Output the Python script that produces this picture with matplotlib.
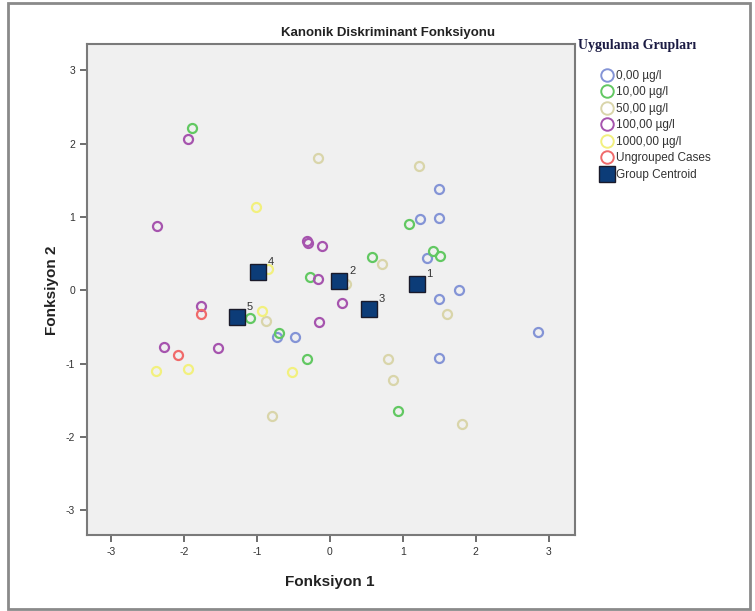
import matplotlib
matplotlib.use("Agg")
import matplotlib.pyplot as plt
from matplotlib.lines import Line2D
from matplotlib.patches import Rectangle

plt.rcParams['font.family'] = ['Liberation Sans', 'DejaVu Sans']
plt.rcParams['axes.unicode_minus'] = False

# discriminant scores per group (function 1, function 2)
g0_x = [1.23, 1.49, 1.49, 1.33, 1.77, 1.49, 2.85, 1.49, -0.73, -0.48]
g0_y = [0.97, 1.38, 0.98, 0.44, 0.00, -0.12, -0.57, -0.93, -0.64, -0.64]

g10_x = [1.09, 1.42, 1.51, 0.58, -0.27, -1.89, -1.10, -0.70, -0.32, 0.94]
g10_y = [0.90, 0.53, 0.47, 0.45, 0.18, 2.22, -0.38, -0.59, -0.94, -1.65]

g50_x = [-0.16, 1.22, 0.71, 0.22, -0.87, -0.79, 1.60, 0.80, 0.87, 1.81]
g50_y = [1.81, 1.70, 0.36, 0.08, -0.42, -1.71, -0.32, -0.94, -1.23, -1.82]

g100_x = [-1.94, -2.37, -0.32, -0.30, -0.11, -0.16, 0.17, -0.15, -1.77, -2.27, -1.53]
g100_y = [2.06, 0.88, 0.67, 0.64, 0.61, 0.15, -0.18, -0.43, -0.21, -0.78, -0.79]

g1000_x = [-1.02, -0.85, -0.93, -2.39, -1.94, -0.52]
g1000_y = [1.13, 0.29, -0.28, -1.10, -1.08, -1.11]

ungrouped_x = [-1.77, -2.08]
ungrouped_y = [-0.32, -0.89]

centroid_x = [1.19, 0.13, 0.54, -0.98, -1.27]
centroid_y = [0.09, 0.12, -0.25, 0.25, -0.36]
centroid_labels = ["1", "2", "3", "4", "5"]

group_names = ["0,00 µg/l", "10,00 µg/l", "50,00 µg/l", "100,00 µg/l",
               "1000,00 µg/l", "Ungrouped Cases"]
group_colors = ["#8494d6", "#62c862", "#d9d5aa", "#a654ae", "#f2f07e", "#f06a6a"]

fig = plt.figure(figsize=(7.55, 6.11), dpi=100)
fig.patches.append(Rectangle((8 / 755, 2 / 611), 742 / 755, 606 / 611,
                             transform=fig.transFigure, fill=False,
                             edgecolor="#8a8a8a", linewidth=2))

ax = fig.add_axes([87 / 755, 1 - 535 / 611, 488 / 755, 491 / 611])
ax.set_facecolor("#f0f0f0")
for s in ax.spines.values():
    s.set_color("#7a7a7a")
    s.set_linewidth(1.5)

series = [(g0_x, g0_y), (g10_x, g10_y), (g50_x, g50_y), (g100_x, g100_y),
          (g1000_x, g1000_y), (ungrouped_x, ungrouped_y)]
for (xs, ys), c in zip(series, group_colors):
    ax.plot(xs, ys, linestyle="none", marker="o", markersize=6.5,
            markerfacecolor="none", markeredgecolor=c, markeredgewidth=1.6)

ax.plot(centroid_x, centroid_y, linestyle="none", marker="s", markersize=11,
        markerfacecolor="#0c3c78", markeredgecolor="#1a1a2a", markeredgewidth=1.0)
for x, y, t in zip(centroid_x, centroid_y, centroid_labels):
    ax.annotate(t, (x, y), xytext=(7, 5), textcoords="offset points",
                fontsize=8, color="#333333")

ax.set_xlim(-3.33, 3.36)
ax.set_ylim(-3.34, 3.36)
ax.set_xticks([-3, -2, -1, 0, 1, 2, 3])
ax.set_yticks([-3, -2, -1, 0, 1, 2, 3])
ax.tick_params(axis="both", direction="out", length=5, width=1.2,
               colors="#555555", labelsize=7.5, labelcolor="#333333")

fig.text(52 / 755, 1 - 290 / 611, "Fonksiyon 2", rotation=90, ha="center",
         va="center", fontsize=11, fontweight="bold", color="#222222")
fig.text(330 / 755, 1 - 582 / 611, "Fonksiyon 1", ha="center", va="center",
         fontsize=11, fontweight="bold", color="#222222")
fig.text(388 / 755, 1 - 33 / 611, "Kanonik Diskriminant Fonksiyonu",
         ha="center", va="center", fontsize=9.5, fontweight="bold",
         color="#222222")

handles = [Line2D([], [], linestyle="none", marker="o", markersize=9,
                  markerfacecolor="none", markeredgecolor=c, markeredgewidth=1.4)
           for c in group_colors]
handles.append(Line2D([], [], linestyle="none", marker="s", markersize=11,
                      markerfacecolor="#0c3c78", markeredgecolor="#1a1a2a"))
labels = group_names + ["Group Centroid"]
leg = fig.legend(handles, labels, loc="upper left",
                 bbox_to_anchor=(599 / 755, 1 - 70 / 611), frameon=False,
                 fontsize=8.5, handletextpad=0.0, labelspacing=0.38,
                 handlelength=1.4, borderpad=0, borderaxespad=0)
for t in leg.get_texts():
    t.set_color("#333333")
fig.text(578 / 755, 1 - 45 / 611, "Uygulama Grupları", ha="left", va="center",
         fontsize=10, fontweight="bold", family=["Liberation Serif"],
         color="#1c1c44")

fig.savefig("out.png", dpi=100)
